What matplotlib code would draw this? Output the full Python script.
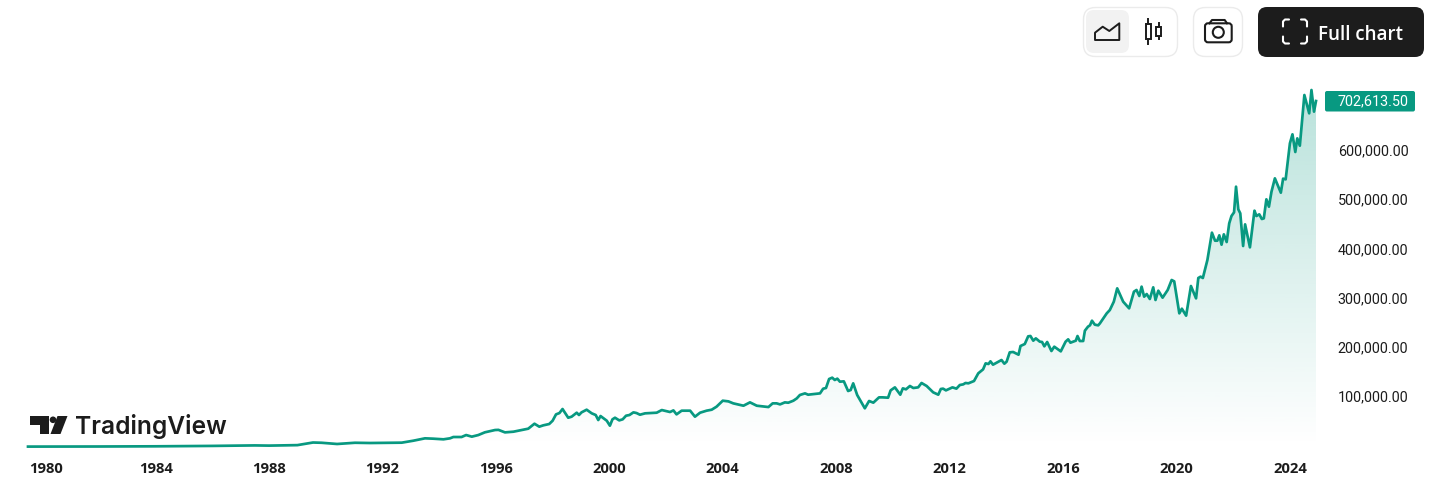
import numpy as np
import matplotlib
matplotlib.use("Agg")
import matplotlib.pyplot as plt
from matplotlib.patches import FancyBboxPatch, Polygon, Circle, Rectangle
from matplotlib.transforms import ScaledTranslation

# index level in thousands, sampled through time
dates = [
    1979.50, 1982.00, 1984.00, 1986.00, 1987.50, 1988.00, 1989.00, 1989.55, 1989.85, 1990.40,
    1991.03, 1991.56, 1992.68, 1993.09, 1993.50, 1993.79, 1994.15, 1994.38, 1994.50, 1994.79,
    1994.95, 1995.15, 1995.38, 1995.61, 1995.97, 1996.09, 1996.32, 1996.62, 1997.14, 1997.36,
    1997.53, 1997.67, 1997.88, 1998.00, 1998.12, 1998.24, 1998.35, 1998.55, 1998.67, 1998.85,
    1998.93, 1999.02, 1999.20, 1999.38, 1999.52, 1999.61, 1999.69, 1999.91, 2000.02, 2000.11,
    2000.20, 2000.35, 2000.47, 2000.59, 2000.71, 2000.85, 2000.96, 2001.08, 2001.26, 2001.67,
    2001.85, 2002.14, 2002.26, 2002.37, 2002.55, 2002.85, 2003.02, 2003.20, 2003.43, 2003.61,
    2003.78, 2004.00, 2004.20, 2004.37, 2004.73, 2004.96, 2005.20, 2005.61, 2005.76, 2005.90,
    2006.02, 2006.19, 2006.31, 2006.49, 2006.61, 2006.72, 2006.90, 2007.01, 2007.43, 2007.54,
    2007.64, 2007.75, 2007.86, 2007.95, 2008.04, 2008.13, 2008.27, 2008.42, 2008.51, 2008.60,
    2008.74, 2009.01, 2009.16, 2009.31, 2009.51, 2009.63, 2009.83, 2009.92, 2010.07, 2010.26,
    2010.35, 2010.46, 2010.60, 2010.72, 2010.89, 2011.01, 2011.19, 2011.42, 2011.60, 2011.69,
    2011.77, 2011.87, 2012.10, 2012.24, 2012.36, 2012.48, 2012.56, 2012.66, 2012.86, 2013.01,
    2013.18, 2013.27, 2013.37, 2013.44, 2013.53, 2013.83, 2013.93, 2014.01, 2014.12, 2014.24,
    2014.43, 2014.50, 2014.65, 2014.77, 2014.85, 2014.95, 2015.04, 2015.18, 2015.26, 2015.34,
    2015.44, 2015.59, 2015.69, 2015.92, 2016.09, 2016.18, 2016.26, 2016.45, 2016.51, 2016.59,
    2016.71, 2016.77, 2016.88, 2016.95, 2017.02, 2017.12, 2017.24, 2017.30, 2017.54, 2017.65,
    2017.79, 2017.91, 2018.12, 2018.33, 2018.50, 2018.59, 2018.69, 2018.77, 2018.86, 2018.95,
    2019.06, 2019.18, 2019.26, 2019.36, 2019.51, 2019.69, 2019.83, 2019.92, 2020.10, 2020.19,
    2020.34, 2020.51, 2020.69, 2020.77, 2020.85, 2020.93, 2021.09, 2021.25, 2021.36, 2021.44,
    2021.51, 2021.59, 2021.67, 2021.77, 2021.86, 2021.94, 2022.03, 2022.10, 2022.18, 2022.25,
    2022.35, 2022.42, 2022.59, 2022.75, 2022.82, 2022.92, 2023.01, 2023.08, 2023.17, 2023.26,
    2023.35, 2023.47, 2023.68, 2023.76, 2023.85, 2024.00, 2024.09, 2024.19, 2024.26, 2024.35,
    2024.51, 2024.68, 2024.76, 2024.85, 2024.92,
]
close = [
    0.2, 0.4, 0.8, 1.6, 2.6, 2.2, 3.2, 8.5, 8.0, 5.5,
    8.0, 7.5, 8.2, 12.2, 17.0, 16.3, 15.0, 17.0, 19.7, 19.7,
    23.7, 20.4, 23.7, 29.2, 33.9, 34.2, 29.1, 30.5, 36.6, 46.7,
    40.7, 43.4, 46.1, 52.8, 65.7, 68.4, 76.6, 58.9, 61.0, 69.1,
    64.4, 69.8, 75.2, 67.8, 64.4, 54.2, 62.3, 52.8, 42.7, 55.6,
    58.9, 53.5, 55.6, 63.0, 64.4, 69.8, 68.4, 65.0, 67.8, 69.1,
    74.5, 70.5, 73.8, 65.7, 73.2, 73.2, 61.0, 69.1, 73.2, 75.2,
    81.3, 93.5, 92.1, 88.1, 83.3, 90.1, 83.3, 80.6, 88.1, 88.1,
    86.0, 90.1, 89.4, 93.5, 98.2, 105.1, 108.4, 105.7, 108.4, 117.9,
    119.3, 137.6, 140.3, 135.6, 138.3, 132.2, 132.8, 113.2, 115.2, 128.8,
    105.1, 78.0, 92.9, 89.5, 100.3, 100.3, 99.6, 114.5, 120.6, 105.7,
    118.6, 116.6, 123.4, 119.3, 120.6, 129.5, 123.4, 110.5, 105.7, 117.3,
    118.0, 114.5, 120.6, 118.0, 125.4, 126.7, 129.5, 128.8, 133.5, 149.1,
    157.2, 169.4, 168.1, 173.5, 166.7, 176.2, 168.7, 172.8, 191.8, 192.5,
    187.0, 204.7, 208.7, 224.3, 225.0, 215.5, 220.2, 213.5, 212.8, 204.0,
    212.8, 194.5, 203.3, 193.8, 213.5, 218.2, 211.4, 215.5, 225.0, 214.8,
    214.8, 235.8, 244.0, 246.7, 256.1, 248.0, 246.7, 250.7, 271.0, 277.8,
    294.8, 321.9, 294.8, 281.2, 315.1, 318.5, 306.3, 325.3, 304.9, 310.3,
    300.2, 323.9, 298.2, 317.1, 302.9, 318.5, 338.8, 336.1, 271.0, 280.5,
    266.3, 326.6, 301.5, 342.9, 345.6, 342.9, 379.4, 435.0, 418.7, 418.7,
    429.6, 410.6, 431.6, 416.0, 454.0, 468.9, 476.3, 528.5, 482.4, 474.3,
    407.9, 451.9, 405.2, 479.7, 468.9, 472.3, 462.8, 464.1, 502.8, 487.8,
    518.3, 545.4, 516.3, 544.8, 543.4, 616.6, 634.9, 599.0, 626.7, 611.8,
    714.8, 677.6, 725.0, 681.0, 702.6135,
]
year_ticks = [1980, 1984, 1988, 1992, 1996, 2000, 2004, 2008, 2012, 2016, 2020, 2024]
value_ticks = [100, 200, 300, 400, 500, 600]

GREEN = "#089981"
DARK = "#1c1c1c"
W, H = 1435, 495

fig = plt.figure(figsize=(W / 100, H / 100), dpi=100, facecolor="white")

# chart area, placed in pixels
left, right, top, bottom = 28, 1316, 60, 446.7
ax = fig.add_axes([left / W, 1 - bottom / H, (right - left) / W, (bottom - top) / H])
ymax = (bottom - top) / 0.492
ax.set_xlim(1979.50, 2024.92)
ax.set_ylim(0, ymax)
for s in ax.spines.values():
    s.set_visible(False)

ax.plot(dates, close, color=GREEN, lw=1.95, solid_joinstyle="round", clip_on=False, zorder=3)

# fading area under the line
n = 256
grad = np.zeros((n, 1, 4))
grad[..., :3] = matplotlib.colors.to_rgb(GREEN)
peak = max(close)
grad[:, 0, 3] = np.linspace(0.283, 0, n)
im = ax.imshow(grad, extent=(ax.get_xlim()[0], ax.get_xlim()[1], 0, peak), aspect="auto", zorder=1)
area = Polygon(list(zip(dates, close)) + [(dates[-1], 0), (dates[0], 0)], closed=True, transform=ax.transData)
im.set_clip_path(area)
ax.set_xlim(1979.50, 2024.92)
ax.set_ylim(0, ymax)

ax.set_xticks(year_ticks)
ax.set_xticklabels([str(y) for y in year_ticks], fontfamily="Open Sans", fontweight="bold", fontsize=10.6, color=DARK)
ax.tick_params(axis="x", length=0, pad=11)
ax.yaxis.tick_right()
ax.set_yticks(value_ticks)
ax.set_yticklabels([f"{v * 1000:,.2f}" for v in value_ticks], fontfamily="Roboto", fontsize=10.4, color=DARK, va="center")
ax.tick_params(axis="y", length=0, pad=15.6)

# first year label sits a little right of its tick
first = ax.get_xticklabels()[0]
first.set_transform(first.get_transform() + ScaledTranslation(3.8 / 100, 0, fig.dpi_scale_trans))

# overlay in pixel coordinates for the toolbar, logo and price badge
ui = fig.add_axes([0, 0, 1, 1], facecolor="none")
ui.set_xlim(0, W)
ui.set_ylim(H, 0)
ui.axis("off")


def box(x0, y0, x1, y1, r, **kw):
    ui.add_patch(FancyBboxPatch((x0 + r, y0 + r), x1 - x0 - 2 * r, y1 - y0 - 2 * r,
                                boxstyle=f"round,pad={r},rounding_size={r}", **kw))


# price badge
box(1325, 91, 1415, 111.5, 2, fc=GREEN, ec="none")
ui.annotate(f"{close[-1] * 1000:,.2f}", xy=(1, close[-1]), xycoords=ax.get_yaxis_transform(),
            xytext=(22, 0), textcoords="offset pixels", color="white", fontfamily="Roboto",
            fontsize=10.4, va="center", annotation_clip=False)

# toolbar
box(1083.5, 7.5, 1177.5, 56.5, 12, fc="white", ec="#ebebeb", lw=1)
box(1086, 10, 1129, 53, 8, fc="#f2f2f2", ec="none")
ui.add_patch(Polygon([(1095, 40), (1095, 32.7), (1102.7, 26.7), (1109.3, 31), (1119.3, 23.3), (1119.3, 40)],
                     closed=True, fc="none", ec=DARK, lw=1.4, joinstyle="round"))
ui.plot([1148.3, 1148.3], [19.3, 44], color=DARK, lw=1.4)
ui.add_patch(Rectangle((1146, 24), 4.7, 15.3, fc="white", ec=DARK, lw=1.4, zorder=3))
ui.plot([1158.7, 1158.7], [22.7, 39.3], color=DARK, lw=1.4)
ui.add_patch(Rectangle((1156.3, 26.7), 4.7, 9.3, fc="white", ec=DARK, lw=1.4, zorder=3))

box(1193.5, 7.5, 1242.5, 56.5, 12, fc="white", ec="#ebebeb", lw=1)
box(1205, 23.3, 1231.7, 42.3, 3, fc="none", ec=DARK, lw=1.5)
ui.plot([1209.5, 1212, 1224.7, 1227], [23.3, 20, 20, 23.3], color=DARK, lw=1.5, solid_joinstyle="round")
ui.add_patch(Circle((1218.3, 32.3), 5.5, fc="none", ec=DARK, lw=1.5))

box(1258, 7, 1424, 57, 9, fc=DARK, ec="none")
cx0, cx1, cy0, cy1 = 1283, 1307, 19.5, 43.5
for sx, sy, xa, ya in [(1, 1, cx0, cy0), (-1, 1, cx1, cy0), (1, -1, cx0, cy1), (-1, -1, cx1, cy1)]:
    ui.plot([xa + 6 * sx, xa + 2 * sx, xa, xa], [ya, ya, ya + 2 * sy, ya + 7 * sy], color="white", lw=1.5,
            solid_joinstyle="round", solid_capstyle="round")
ui.text(1318, 32, "Full chart", color="white", fontfamily="Open Sans", fontweight="semibold", fontsize=13.5,
        va="center_baseline", ha="left")

# logo
ui.add_patch(Polygon([(30, 416), (48.8, 416), (48.8, 434), (39.5, 434), (39.5, 424.5), (30, 424.5)], closed=True, fc=DARK, ec="none"))
ui.add_patch(Circle((53, 419.8), 3.3, fc=DARK, ec="none"))
ui.add_patch(Polygon([(57.5, 416), (67.5, 416), (60.5, 434), (50.5, 434)], closed=True, fc=DARK, ec="none"))
ui.text(75.5, 434, "TradingView", color=DARK, fontfamily="Inter", fontweight="semibold", fontsize=17.7, va="baseline", ha="left")

fig.savefig("out.png", dpi=100)
